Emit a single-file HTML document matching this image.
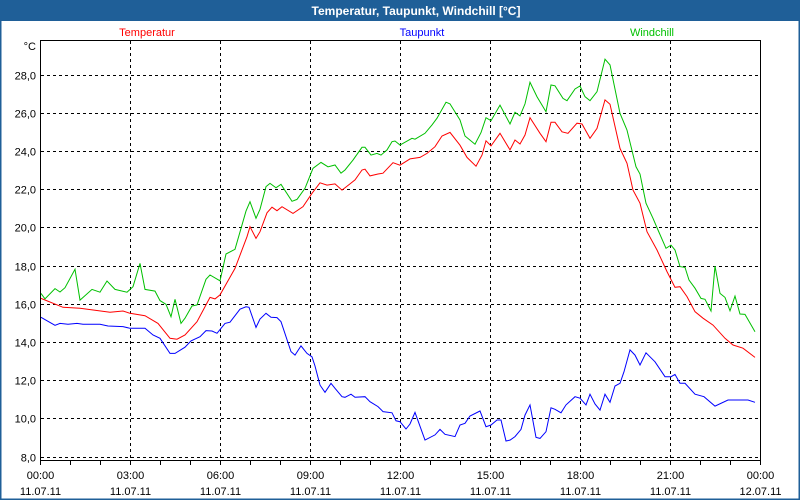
<!DOCTYPE html>
<html><head><meta charset="utf-8"><style>
html,body{margin:0;padding:0;background:#fff}
#wrap{position:relative;width:800px;height:500px;overflow:hidden;background:#fff;font-family:"Liberation Sans",sans-serif}
</style></head><body>
<div id="wrap">
<svg id="chart" width="800" height="500" xmlns="http://www.w3.org/2000/svg">
<rect x="0" y="0" width="800" height="500" fill="#fff"/>
<rect x="0" y="0" width="800" height="21" fill="#1f5f98"/>
<rect x="0.5" y="0.5" width="799" height="499" fill="none" stroke="#1f5f98" stroke-width="2"/>
<text x="416" y="15" text-anchor="middle" fill="#fff" font-weight="bold" font-size="12">Temperatur, Taupunkt, Windchill [°C]</text>
<text x="147" y="36" text-anchor="middle" fill="#ff0000" font-size="11">Temperatur</text>
<text x="422" y="36" text-anchor="middle" fill="#0000ff" font-size="11">Taupunkt</text>
<text x="652" y="36" text-anchor="middle" fill="#00c000" font-size="11">Windchill</text>
<text x="36" y="50" text-anchor="end" fill="#000" font-size="11">°C</text>
<g id="grid"></g>
<g id="series"></g>
<rect x="40.5" y="40.5" width="720" height="420" fill="none" stroke="#000" stroke-width="1"/>
<g id="axes"></g>
</svg>
</div>
<script>
const yTicks = [8,10,12,14,16,18,20,22,24,26,28];
const xTickMinutes = [0,180,360,540,720,900,1080,1260,1440];
const xTimeLabels = ["00:00","03:00","06:00","09:00","12:00","15:00","18:00","21:00","00:00"];
const xDateLabels = ["11.07.11","11.07.11","11.07.11","11.07.11","11.07.11","11.07.11","11.07.11","11.07.11","12.07.11"];

const tempT = [2,46,80,140,166,180,210,236,260,274,290,314,340,350,360,390,414,420,432,440,454,464,474,484,506,526,544,560,574,590,604,620,630,644,650,660,676,686,706,720,740,760,774,790,804,820,840,854,872,884,892,902,920,940,950,960,970,980,1000,1012,1022,1030,1044,1056,1074,1084,1100,1114,1130,1140,1160,1174,1186,1200,1214,1234,1254,1270,1280,1294,1310,1326,1346,1370,1386,1406,1430];
const tempV = [16.28,15.81,15.76,15.55,15.62,15.5,15.37,14.97,14.19,14.14,14.36,15.06,16.33,16.25,16.46,17.85,19.51,20.03,19.42,19.77,20.76,21.05,20.87,21.08,20.73,21.08,21.78,22.33,22.21,22.27,21.95,22.27,22.48,23.0,23.04,22.69,22.79,22.83,23.38,23.25,23.58,23.66,23.87,24.22,24.78,24.97,24.3,23.66,23.2,23.78,24.53,24.26,24.92,24.05,24.57,24.36,24.83,25.74,24.92,24.48,25.5,25.5,25.0,24.92,25.45,25.41,24.66,25.18,26.67,26.44,24.13,23.35,21.95,21.26,19.77,18.81,17.68,16.86,16.89,16.37,15.58,15.24,14.88,14.19,13.84,13.67,13.19];

const dewT = [2,30,40,56,74,86,120,136,166,180,210,226,240,260,270,290,302,320,332,344,354,370,380,400,412,418,432,440,452,462,474,482,502,510,522,534,544,550,560,570,582,590,604,610,622,630,650,660,676,686,704,712,720,732,740,750,770,790,800,810,830,840,850,860,880,892,902,914,922,932,940,950,962,970,980,992,1000,1012,1022,1030,1042,1052,1070,1080,1092,1100,1110,1120,1130,1140,1150,1160,1168,1180,1190,1200,1212,1230,1250,1262,1270,1280,1290,1310,1328,1350,1376,1416,1430];
const dewV = [15.29,14.87,14.97,14.92,14.97,14.92,14.92,14.83,14.8,14.71,14.71,14.36,14.19,13.4,13.4,13.72,14.05,14.27,14.59,14.57,14.45,14.97,15.03,15.71,15.84,15.81,14.76,15.2,15.5,15.29,15.27,15.06,13.49,13.31,13.79,13.4,13.22,12.74,11.74,11.36,11.83,11.57,11.13,11.1,11.26,11.1,11.13,10.87,10.61,10.35,10.29,9.87,9.82,9.44,9.7,10.31,8.86,9.13,9.42,9.16,9.04,9.65,9.74,10.12,10.38,9.56,9.65,9.91,9.91,8.81,8.86,9.04,9.42,10.17,10.7,9.0,8.95,9.3,10.55,10.47,10.29,10.7,11.13,11.05,10.7,11.26,10.75,10.43,11.26,10.84,11.69,11.83,12.44,13.58,13.31,12.79,13.43,12.96,12.18,12.18,12.3,11.83,11.83,11.26,11.13,10.64,10.96,10.96,10.84];

const windT = [2,10,30,40,50,70,80,104,120,134,150,174,186,200,210,230,240,252,262,270,282,290,304,314,332,340,360,372,390,412,420,432,440,452,460,472,482,504,514,530,546,562,576,590,602,610,626,644,650,662,674,682,694,704,710,720,744,750,770,784,794,812,820,840,850,870,882,892,902,920,940,950,960,970,980,994,1012,1022,1030,1046,1054,1070,1080,1090,1100,1114,1130,1140,1160,1174,1192,1200,1212,1226,1236,1252,1262,1270,1280,1290,1298,1310,1322,1330,1342,1350,1360,1370,1380,1390,1400,1410,1430];
const windV = [16.54,16.25,16.79,16.61,16.84,17.8,16.19,16.75,16.6,17.19,16.75,16.6,16.89,18.11,16.75,16.66,16.16,15.97,15.32,16.23,14.97,15.24,15.88,15.93,17.28,17.5,17.2,18.6,18.85,20.85,21.34,20.47,20.94,22.13,22.3,22.07,22.25,21.36,21.46,22.04,23.09,23.4,23.17,23.26,22.83,23.0,23.52,24.19,24.19,23.78,23.87,23.78,24.05,24.48,24.52,24.31,24.66,24.61,24.92,25.36,25.71,26.55,26.46,25.62,24.78,24.35,24.96,25.74,25.58,26.4,25.41,26.02,25.83,26.46,27.59,26.84,26.05,27.45,27.41,26.75,26.63,27.24,27.4,26.84,26.63,27.1,28.8,28.5,25.97,25.09,23.17,22.79,21.26,20.47,19.86,18.9,19.07,18.81,17.94,17.9,17.24,16.81,16.28,16.23,15.62,17.97,16.54,16.33,15.63,16.4,15.46,15.44,14.53];

const NS = "http://www.w3.org/2000/svg";
function xScale(min){ return 40 + min * 720 / 1440; }
function yScale(v){ return 456.5 - (v - 8) * 19.1; }

const grid = document.getElementById('grid');
const axes = document.getElementById('axes');
const series = document.getElementById('series');

function mk(tag, attrs, parent){
  const e = document.createElementNS(NS, tag);
  for (const k in attrs) e.setAttribute(k, attrs[k]);
  parent.appendChild(e);
  return e;
}

yTicks.forEach(v => {
  const y = Math.round(yScale(v)) + 0.5;
  const l = mk('line', {x1:41, x2:760, y1:y, y2:y, stroke:'#000', 'stroke-dasharray':'3,3', 'stroke-width':1}, grid);
  
  
  const t = mk('text', {x:36, y:y+4, 'text-anchor':'end', 'font-size':11, fill:'#000'}, axes);
  t.textContent = v.toFixed(1).replace('.', ',');
  
  
});

for (let h = 0; h <= 24; h++) {
  const x = Math.round(xScale(h * 60)) + 0.5;
  const tk = mk('line', {x1:x, x2:x, y1:461, y2:465, stroke:'#000', 'stroke-width':1}, axes);
  
  
}

xTickMinutes.forEach((m, i) => {
  const x = Math.round(xScale(m)) + 0.5;
  if (i > 0 && i < xTickMinutes.length - 1) {
    const l = mk('line', {x1:x, x2:x, y1:41, y2:460, stroke:'#000', 'stroke-dasharray':'3,3', 'stroke-width':1}, grid);
    
    
  }
  const t1 = mk('text', {x:x, y:479, 'text-anchor':'middle', 'font-size':11, fill:'#000'}, axes);
  t1.textContent = xTimeLabels[i];
  
  
  const t2 = mk('text', {x:x, y:495, 'text-anchor':'middle', 'font-size':11, fill:'#000'}, axes);
  t2.textContent = xDateLabels[i];
  
  
});

function drawLine(ts, vs, color, name){
  const n = Math.min(ts.length, vs.length);
  let d = '';
  for (let i = 0; i < n; i++) d += (i ? 'L' : 'M') + xScale(ts[i]).toFixed(1) + ',' + yScale(vs[i]).toFixed(1);
  const p = mk('path', {d:d, fill:'none', stroke:color, 'stroke-width':1}, series);
  
  
}
drawLine(windT, windV, '#00c000', 'windchill-line');
drawLine(tempT, tempV, '#ff0000', 'temperatur-line');
drawLine(dewT, dewV, '#0000ff', 'taupunkt-line');
</script>
</body></html>
